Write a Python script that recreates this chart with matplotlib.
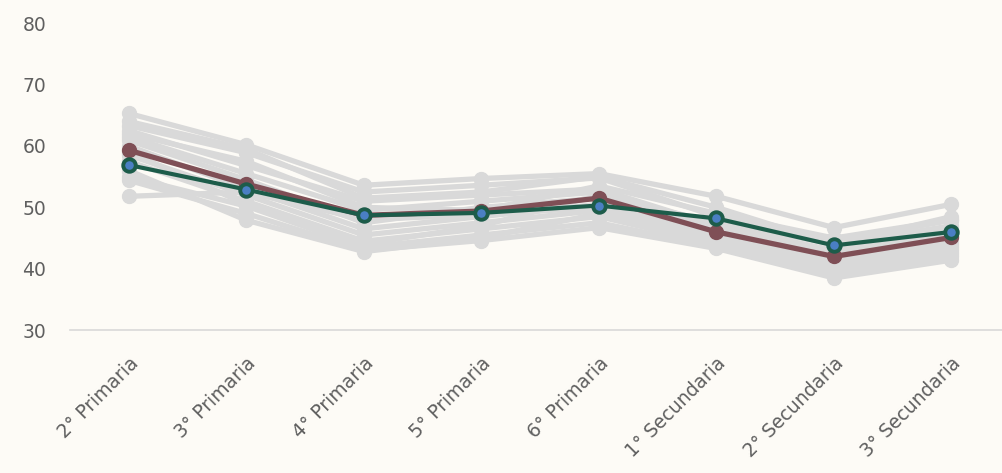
import matplotlib
matplotlib.use("Agg")
import matplotlib.pyplot as plt
import numpy as np

# Categories (school grades)
grades = ["2° Primaria", "3° Primaria", "4° Primaria", "5° Primaria",
          "6° Primaria", "1° Secundaria", "2° Secundaria", "3° Secundaria"]

# Highlighted series
maroon_vals = [59.3, 53.8, 48.7, 49.4, 51.5, 46.0, 42.0, 45.1]
green_vals = [56.9, 52.9, 48.7, 49.1, 50.3, 48.2, 43.8, 46.0]

# Background (grey) series
grey_series = [
    [65.3, 60.2, 53.6, 54.7, 55.5, 51.8, 46.7, 50.5],
    [63.3, 58.9, 52.5, 53.6, 54.8, 48.5, 44.5, 47.9],
    [62.5, 56.8, 51.0, 52.0, 53.0, 47.0, 43.0, 46.5],
    [61.5, 55.5, 49.5, 51.0, 52.5, 46.5, 42.5, 45.5],
    [60.9, 54.5, 47.5, 50.0, 51.5, 45.5, 41.5, 44.5],
    [60.0, 53.0, 46.5, 48.5, 50.5, 45.0, 41.0, 44.0],
    [58.5, 52.0, 45.5, 47.5, 49.5, 44.5, 40.5, 43.5],
    [57.5, 51.0, 44.5, 46.5, 48.5, 44.0, 40.0, 43.0],
    [55.0, 50.2, 43.5, 45.5, 47.5, 43.5, 39.5, 42.5],
    [54.4, 49.0, 43.0, 44.6, 46.7, 43.3, 38.5, 41.4],
    [51.8, 52.5, 48.0, 48.8, 50.0, 46.0, 42.0, 46.0],
    [62.0, 57.5, 50.0, 49.5, 53.5, 49.0, 45.0, 48.0],
    [59.0, 50.5, 44.0, 47.0, 52.0, 47.5, 44.0, 47.0],
    [56.0, 47.9, 42.8, 45.0, 49.0, 44.0, 39.0, 42.0],
    [64.0, 59.5, 51.5, 52.5, 55.0, 50.0, 44.0, 48.5],
]

y_ticks = [30, 40, 50, 60, 70, 80]

GREY = "#d9d9d9"
MAROON = "#7f4f56"
GREEN = "#1d5c4a"
MARKER_BLUE = "#4a7fc3"
TEXT = "#5f5f5f"

plt.rcParams["font.family"] = ["DejaVu Sans"]

fig = plt.figure(figsize=(10.02, 4.73), dpi=100)
fig.patch.set_facecolor("#fdfbf6")
ax = fig.add_axes([0.0699, 0.302, 0.9301, 0.649])
ax.set_facecolor("none")

x = np.arange(len(grades))

for s in grey_series:
    ax.plot(x, s, color=GREY, linewidth=3.8, marker="o", markersize=10,
            markerfacecolor=GREY, markeredgecolor=GREY, clip_on=False, zorder=2)

ax.plot(x, maroon_vals, color=MAROON, linewidth=3.8, marker="o", markersize=10,
        markerfacecolor=MAROON, markeredgecolor=MAROON, clip_on=False, zorder=3)

ax.plot(x, green_vals, color=GREEN, linewidth=3.0, marker="o", markersize=9,
        markerfacecolor=MARKER_BLUE, markeredgecolor=GREEN, markeredgewidth=2.8,
        clip_on=False, zorder=4)

ax.set_xlim(-0.5, 7.43)
ax.set_ylim(30, 80)
ax.set_yticks(y_ticks)
ax.set_xticks(x)
ax.set_xticklabels(grades, rotation=45, ha="right", rotation_mode="anchor",
                   fontsize=13.5, color=TEXT)
ax.tick_params(axis="x", length=0, pad=17)
ax.tick_params(axis="y", length=0, pad=17, labelsize=13.5, labelcolor=TEXT)

for side in ["top", "right", "left"]:
    ax.spines[side].set_visible(False)
ax.spines["bottom"].set_color("#d9d9d9")
ax.spines["bottom"].set_linewidth(1.2)

fig.savefig("out.png", dpi=100, facecolor=fig.get_facecolor())
